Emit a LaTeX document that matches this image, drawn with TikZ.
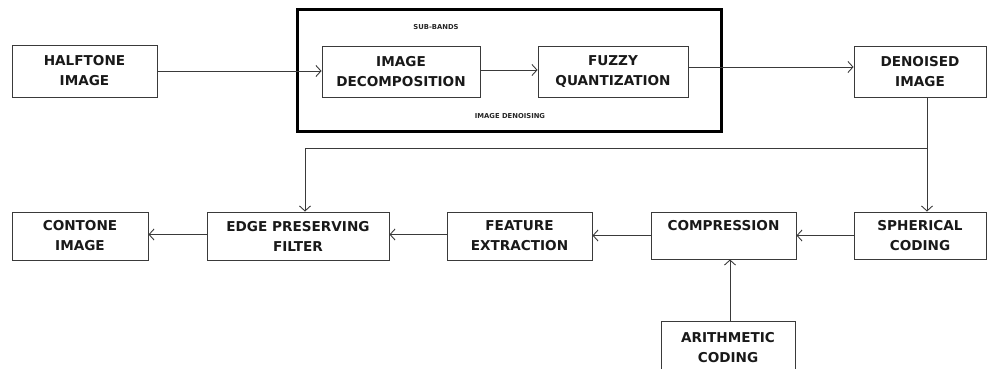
\documentclass[tikz,border=0pt]{standalone}
\usepackage{fontspec}
\setmainfont{DejaVu Sans}
\usetikzlibrary{arrows.meta,calc}
\definecolor{ln}{HTML}{3A3A3A}
\tikzset{
  blk/.style={draw=ln, line width=0.9pt, rectangle, align=center, inner sep=0pt,
    font=\fontsize{13.6}{20}\selectfont\bfseries, text=black!90},
  arr/.style={draw=ln, line width=0.9pt, -{Straight Barb[length=5pt,width=11pt]}},
  small/.style={font=\fontsize{6.8}{8}\selectfont\bfseries, text=black!85, inner sep=0pt}
}
\begin{document}
\begin{tikzpicture}[x=1pt,y=-1pt]
\useasboundingbox (0,0) rectangle (987,369);
\clip (0,0) rectangle (987,369);
% top row
\node[blk, minimum width=145pt, minimum height=52pt] (half) at (84.5,71) {HALFTONE\\IMAGE};
\node[blk, minimum width=158pt, minimum height=51pt] (decomp) at (401,71.5) {IMAGE\\DECOMPOSITION};
\node[blk, minimum width=150pt, minimum height=51pt] (fuzzy) at (613,71.5) {FUZZY\\QUANTIZATION};
\node[blk, minimum width=132pt, minimum height=51pt] (den) at (920,71.5) {DENOISED\\IMAGE};
\node[draw=black, line width=3pt, minimum width=424pt, minimum height=121pt, inner sep=0pt] (outer) at (509,70.5) {};
\node[small] (sb) at (436,27) {SUB-BANDS};
\node[small] (id) at (510,116) {IMAGE DENOISING};
% bottom row
\node[blk, minimum width=136pt, minimum height=48pt] (cont) at (80,236) {CONTONE\\IMAGE};
\node[blk, minimum width=182pt, minimum height=48pt] (edge) at (298,236) {EDGE PRESERVING\\FILTER};
\node[blk, minimum width=145pt, minimum height=48pt] (feat) at (519.5,236) {FEATURE\\EXTRACTION};
\node[blk, minimum width=145pt, minimum height=47pt] (comp) at (723.5,235.5) {};
\node[font=\fontsize{13.6}{20}\selectfont\bfseries, text=black!90, inner sep=0pt] (comptext) at (723.5,225.5) {COMPRESSION};
\node[blk, minimum width=132pt, minimum height=47pt] (sph) at (920,235.5) {SPHERICAL\\CODING};
\node[blk, minimum width=134pt, minimum height=54pt] (arith) at (728,348) {ARITHMETIC\\CODING};
% connectors
\draw[arr] (half.east) -- (half.east -| decomp.west);
\draw[arr] ($(decomp.east)+(0,-1.5)$) -- ($(fuzzy.west)+(0,-1.5)$);
\draw[arr] ($(fuzzy.east)+(0,-4.5)$) -- ($(den.west)+(0,-4.5)$);
\draw[arr] ($(den.south)+(7,0)$) -- ($(sph.north)+(7,0)$);
\coordinate (br) at ($(den.south)+(7,50.5)$);
\draw[arr] (br) -| ($(edge.north)+(7,0)$);
\draw[arr] (sph.west) -- (sph.west -| comp.east);
\draw[arr] (comp.west) -- (comp.west -| feat.east);
\draw[arr] ($(feat.west)+(0,-1.5)$) -- ($(edge.east)+(0,-1.5)$);
\draw[arr] ($(edge.west)+(0,-1.5)$) -- ($(cont.east)+(0,-1.5)$);
\draw[arr] ($(arith.north)+(2,0)$) -- ($(comp.south)+(6.5,0)$);
\end{tikzpicture}
\end{document}
